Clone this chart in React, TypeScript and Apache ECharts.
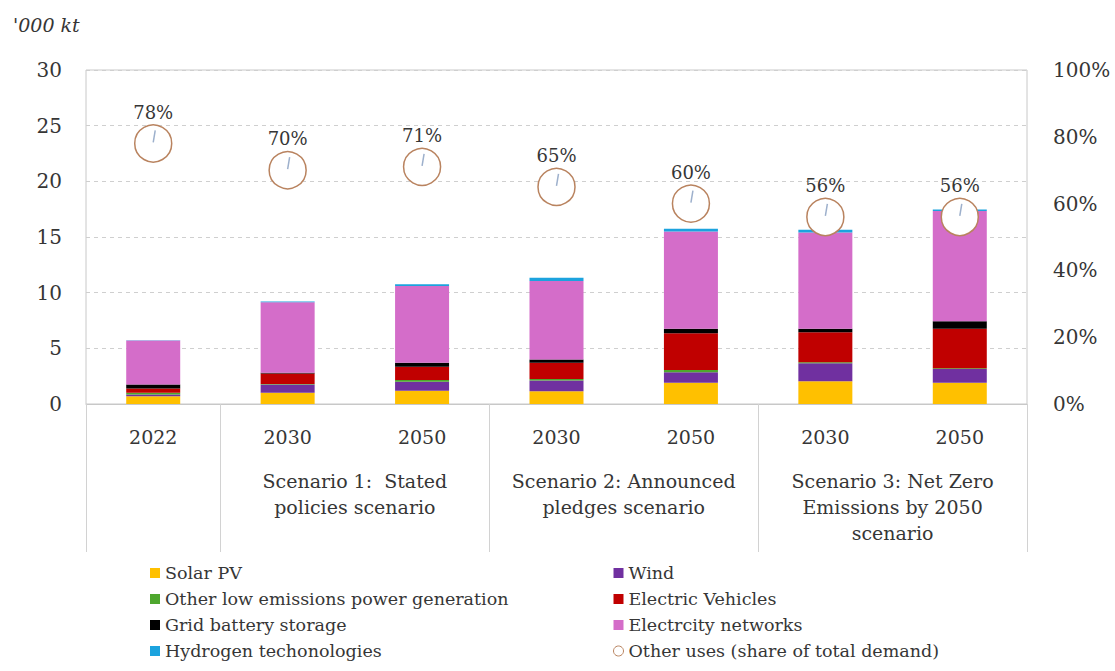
import React, { useEffect, useRef } from "react";
import * as echarts from "echarts";

const categories = ["2022", "2030", "2050", "2030", "2050", "2030", "2050"];
const groupStarts = [0, 1, 3, 5];
const groupLabels: Record<number, string> = {
  2: "Scenario 1:  Stated\npolicies scenario",
  4: "Scenario 2: Announced\npledges scenario",
  6: "Scenario 3: Net Zero\nEmissions by 2050\nscenario",
};
const leftTicks = { min: 0, max: 30, interval: 5 };
const rightTicks = { min: 0, max: 100, interval: 20 };

const solarPV = [0.7, 1.0, 1.2, 1.15, 1.9, 2.05, 1.9];
const wind = [0.15, 0.75, 0.8, 0.95, 0.95, 1.6, 1.25];
const otherLow = [0.15, 0.05, 0.15, 0.15, 0.2, 0.1, 0.05];
const electricVehicles = [0.4, 0.95, 1.2, 1.45, 3.3, 2.7, 3.55];
const gridBattery = [0.35, 0.05, 0.35, 0.3, 0.4, 0.3, 0.68];
const networks = [3.95, 6.35, 6.9, 7.05, 8.75, 8.65, 9.9];
const hydrogen = [0.02, 0.05, 0.15, 0.3, 0.25, 0.25, 0.15];
const otherUsesShare = [78, 70, 71, 65, 60, 56, 56];

const FONT = "DejaVu Serif";
const TEXT = "#363636";
const CIRCLE = "#b9835f";

const barSeries = [
  { name: "Solar PV", data: solarPV, color: "#FFC000" },
  { name: "Wind", data: wind, color: "#7030A0" },
  { name: "Other low emissions power generation", data: otherLow, color: "#4EA72E" },
  { name: "Electric Vehicles", data: electricVehicles, color: "#C00000" },
  { name: "Grid battery storage", data: gridBattery, color: "#000000" },
  { name: "Electrcity networks", data: networks, color: "#D46DC9" },
  { name: "Hydrogen techonologies", data: hydrogen, color: "#1CA3DE" },
];
const otherUsesName = "Other uses (share of total demand)";

export default function App() {
  const ref = useRef<HTMLDivElement>(null);
  useEffect(() => {
    document.body.style.margin = "0";
    if (!ref.current) return;
    const chart = echarts.init(ref.current, null, { renderer: "svg" });
    const legendText = { fontFamily: FONT, fontSize: 17.5, color: TEXT, lineHeight: 18 };
    chart.setOption({
      animation: false,
      backgroundColor: "#ffffff",
      textStyle: { fontFamily: FONT },
      grid: {
        left: 86,
        right: 88,
        top: 70,
        bottom: 267,
        show: true,
        borderColor: "#c8c8c8",
        borderWidth: 1,
      },
      graphic: [
        {
          type: "text",
          left: 13,
          top: 15,
          style: {
            text: "'000 kt",
            fontFamily: FONT,
            fontStyle: "italic",
            fontSize: 19,
            fill: TEXT,
          },
        },
      ],
      legend: [
        {
          orient: "vertical",
          left: 145,
          top: 559,
          itemWidth: 10,
          itemHeight: 10,
          itemGap: 8,
          icon: "rect",
          selectedMode: false,
          textStyle: legendText,
          data: [barSeries[0].name, barSeries[2].name, barSeries[4].name, barSeries[6].name],
        },
        {
          orient: "vertical",
          left: 608,
          top: 559,
          itemWidth: 10,
          itemHeight: 10,
          itemGap: 8,
          icon: "rect",
          selectedMode: false,
          textStyle: legendText,
          data: [
            barSeries[1].name,
            barSeries[3].name,
            barSeries[5].name,
            {
              name: otherUsesName,
              icon: "circle",
              itemStyle: { color: "#ffffff", borderColor: CIRCLE, borderWidth: 1 },
            },
          ],
        },
      ],
      xAxis: [
        {
          type: "category",
          data: categories,
          position: "bottom",
          axisLine: { show: true, lineStyle: { color: "#c8c8c8" } },
          axisTick: {
            show: true,
            alignWithLabel: false,
            length: 148,
            interval: (i: number) => groupStarts.includes(i),
            lineStyle: { color: "#d2d2d2" },
          },
          axisLabel: {
            fontFamily: FONT,
            fontSize: 19,
            lineHeight: 26,
            color: TEXT,
            margin: 20,
            interval: 0,
          },
          splitLine: { show: false },
        },
        {
          type: "value",
          min: 0,
          max: 7,
          interval: 1,
          position: "bottom",
          axisLine: { show: false },
          axisTick: { show: false },
          splitLine: { show: false },
          axisLabel: {
            fontFamily: FONT,
            fontSize: 19,
            lineHeight: 26,
            color: TEXT,
            margin: 64,
            align: "center",
            formatter: (v: number) => groupLabels[v] ?? "",
          },
        },
      ],
      yAxis: [
        {
          type: "value",
          ...leftTicks,
          axisLine: { show: false },
          axisTick: { show: false },
          axisLabel: { fontFamily: FONT, fontSize: 20, color: TEXT, margin: 24 },
          splitLine: { show: true, lineStyle: { color: "#cfcfcf", type: [4, 4] } },
        },
        {
          type: "value",
          position: "right",
          ...rightTicks,
          axisLine: { show: false },
          axisTick: { show: false },
          axisLabel: {
            fontFamily: FONT,
            fontSize: 20,
            color: TEXT,
            margin: 26,
            formatter: "{value}%",
          },
          splitLine: { show: false },
        },
      ],
      series: [
        ...barSeries.map((s) => ({
          name: s.name,
          type: "bar",
          stack: "total",
          barWidth: 54,
          data: s.data,
          itemStyle: { color: s.color },
        })),
        {
          name: otherUsesName,
          type: "scatter",
          yAxisIndex: 1,
          data: otherUsesShare,
          symbol: "circle",
          symbolSize: 37,
          z: 5,
          itemStyle: { color: "#ffffff", borderColor: CIRCLE, borderWidth: 1.5, opacity: 1 },
          label: {
            show: true,
            position: "top",
            distance: 3,
            fontFamily: FONT,
            fontSize: 18,
            color: TEXT,
            formatter: (p: any) => {
              const v = Array.isArray(p.value) ? p.value[1] : p.value;
              return v + "%";
            },
          },
        },
        {
          name: "needle",
          type: "custom",
          yAxisIndex: 1,
          z: 6,
          silent: true,
          data: otherUsesShare.map((v, i) => [i, v]),
          encode: { x: 0, y: 1 },
          renderItem: (params: any, api: any) => {
            const p = api.coord([api.value(0), api.value(1)]);
            return {
              type: "line",
              shape: { x1: p[0], y1: p[1] - 1, x2: p[0] + 2, y2: p[1] - 13 },
              style: { stroke: "#9db0cc", lineWidth: 1.5 },
            };
          },
        },
      ],
    });
    return () => chart.dispose();
  }, []);
  return <div ref={ref} style={{ width: 1115, height: 671 }} />;
}
